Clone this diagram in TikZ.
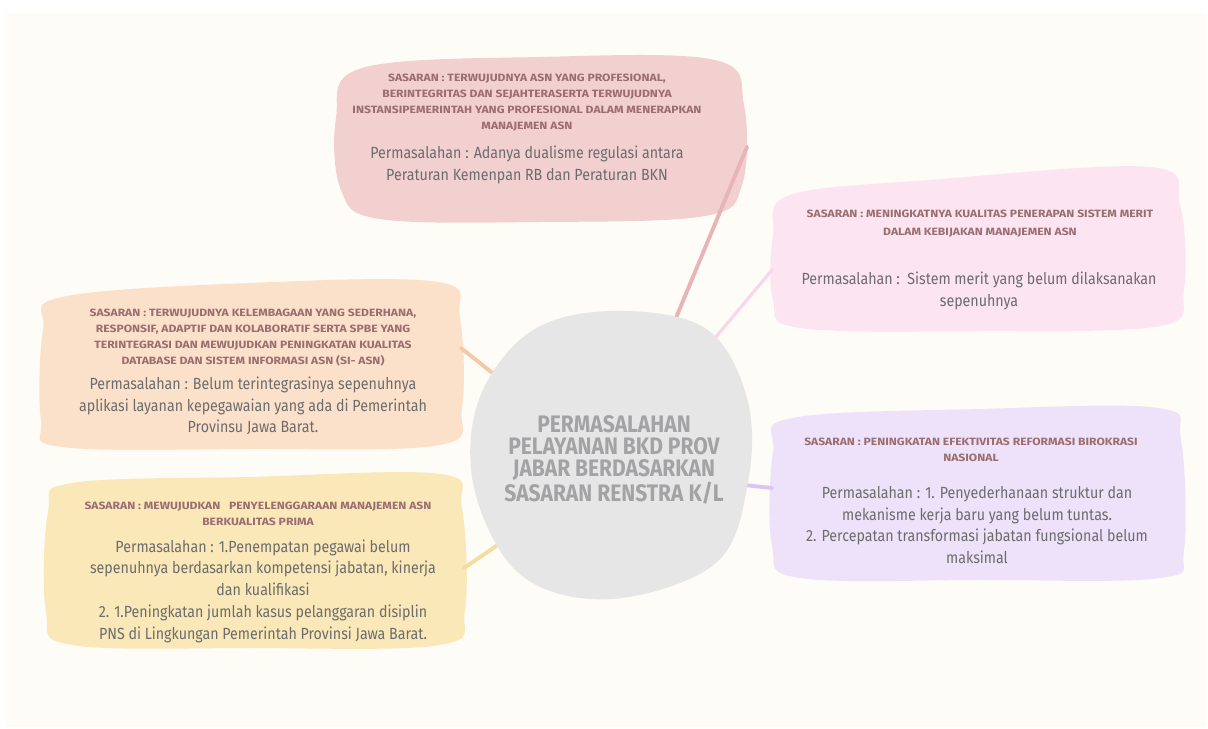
\documentclass[tikz,border=0pt]{standalone}
\usepackage{fontspec}
\setmainfont{Fira Sans}[FakeStretch=0.88]
\newfontfamily\hdfont{Fira Sans}[FakeStretch=1.15]
\definecolor{bgc}{HTML}{FDFCF7}
\definecolor{topfill}{HTML}{F2D0D0}
\definecolor{toplink}{HTML}{E8B4B8}
\definecolor{rtfill}{HTML}{FCE4F1}
\definecolor{rtlink}{HTML}{FAD6EC}
\definecolor{lfill}{HTML}{FBE1CA}
\definecolor{llink}{HTML}{F6C9A6}
\definecolor{lbfill}{HTML}{FAE8B9}
\definecolor{lblink}{HTML}{F7DC9F}
\definecolor{rbfill}{HTML}{EEE2FA}
\definecolor{rblink}{HTML}{D9C4F2}
\definecolor{circfill}{HTML}{E6E6E6}
\definecolor{circtext}{HTML}{A3A3A6}
\definecolor{headc}{HTML}{9A6D70}
\definecolor{bodyc}{HTML}{6C6C6C}
\tikzset{
  hd/.style={font=\hdfont\fontsize{6}{9.1}\selectfont\bfseries, text=headc, align=center, inner sep=0pt},
  bd/.style={font=\fontsize{9.2}{12.4}\selectfont, text=bodyc, align=center, inner sep=0pt},
  ctext/.style={font=\fontsize{13.6}{12.3}\selectfont\bfseries, text=circtext, align=center, inner sep=0pt},
  link/.style={line width=2.2pt, line cap=round},
  blob/.style={smooth cycle, tension=0.6}
}
\begin{document}
\begin{tikzpicture}[x=0.02cm, y=-0.02cm]
\useasboundingbox (0,0) rectangle (1208,729);
\fill[white] (0,0) rectangle (1208,729);
\fill[bgc] (6,13) rectangle (1206,727);

% connector end points
\coordinate (topE) at (747,147);
\coordinate (cTop) at (673,325);
\coordinate (rtE) at (772,270);
\coordinate (cRt) at (705,350);
\coordinate (lE) at (461,348);
\coordinate (cL) at (505,383);
\coordinate (rbE) at (772,488);
\coordinate (cRb) at (744,485);
\coordinate (lbE) at (464,568);
\coordinate (cLb) at (508,538);

% blobs
\fill[topfill] plot[blob] coordinates {(362,68) (540,57) (715,60) (744,105) (742,185) (705,216) (540,222) (380,219) (341,190) (336,118)};
\fill[rtfill] plot[blob] coordinates {(790,195) (930,180) (1150,167) (1180,205) (1184,290) (1160,326) (980,331) (800,328) (773,300) (773,235)};
\fill[lfill] plot[blob] coordinates {(62,297) (250,283) (438,282) (460,318) (462,408) (440,445) (250,449) (62,447) (41,420) (43,330)};
\fill[lbfill] plot[blob] coordinates {(72,483) (250,477) (440,474) (462,508) (465,610) (440,645) (250,648) (72,645) (46,612) (48,512)};
\fill[rbfill] plot[blob] coordinates {(792,418) (980,409) (1158,408) (1181,440) (1184,550) (1160,578) (980,580) (800,578) (772,546) (773,452)};

% connectors
\draw[link, toplink] (topE) -- (cTop);
\draw[link, rtlink, line width=1.8pt] (rtE) -- (cRt);
\draw[link, llink] (lE) -- (cL);
\draw[link, rblink] (rbE) -- (cRb);
\draw[link, lblink] (lbE) -- (cLb);

% central blob
\fill[circfill] plot[blob] coordinates {(612,311) (705,328) (747,398) (748,482) (716,563) (612,599) (522,576) (475,492) (478,402) (530,332)};

% texts
\node[ctext] (center) at (614,460) {PERMASALAHAN\\PELAYANAN BKD PROV\\JABAR BERDASARKAN\\SASARAN RENSTRA K/L};

\node[hd] (tophd) at (527,103) {SASARAN : TERWUJUDNYA ASN YANG PROFESIONAL,\\BERINTEGRITAS DAN SEJAHTERASERTA TERWUJUDNYA\\INSTANSIPEMERINTAH YANG PROFESIONAL DALAM MENERAPKAN\\MANAJEMEN ASN};
\node[bd] (topbd) at (527,165) {Permasalahan : Adanya dualisme regulasi antara\\Peraturan Kemenpan RB dan Peraturan BKN};

\node[hd] (rthd) at (980,224) {SASARAN : MENINGKATNYA KUALITAS PENERAPAN SISTEM MERIT\\[1.1pt]DALAM KEBIJAKAN MANAJEMEN ASN};
\node[bd] (rtbd) at (979,291) {Permasalahan :\ \ Sistem merit yang belum dilaksanakan\\sepenuhnya};

\node[hd] (lhd) at (253,338) {SASARAN : TERWUJUDNYA KELEMBAGAAN YANG SEDERHANA,\\RESPONSIF, ADAPTIF DAN KOLABORATIF SERTA SPBE YANG\\TERINTEGRASI DAN MEWUJUDKAN PENINGKATAN KUALITAS\\DATABASE DAN SISTEM INFORMASI ASN (SI- ASN)};
\node[bd] (lbd) at (253,406) {Permasalahan : Belum terintegrasinya sepenuhnya\\aplikasi layanan kepegawaian yang ada di Pemerintah\\Provinsu Jawa Barat.};

\node[hd] (lbhd) at (258,514) {SASARAN : MEWUJUDKAN\ \ \ PENYELENGGARAAN MANAJEMEN ASN\\BERKUALITAS PRIMA};
\node[bd] (lbbd) at (263,591) {Permasalahan : 1.Penempatan pegawai belum\\sepenuhnya berdasarkan kompetensi jabatan, kinerja\\dan kualifikasi\\2. 1.Peningkatan jumlah kasus pelanggaran disiplin\\PNS di Lingkungan Pemerintah Provinsi Jawa Barat.};

\node[hd] (rbhd) at (971,450) {SASARAN : PENINGKATAN EFEKTIVITAS REFORMASI BIROKRASI\\NASIONAL};
\node[bd] (rbbd) at (977,525) {Permasalahan : 1. Penyederhanaan struktur dan\\mekanisme kerja baru yang belum tuntas.\\2. Percepatan transformasi jabatan fungsional belum\\maksimal};
\end{tikzpicture}
\end{document}
